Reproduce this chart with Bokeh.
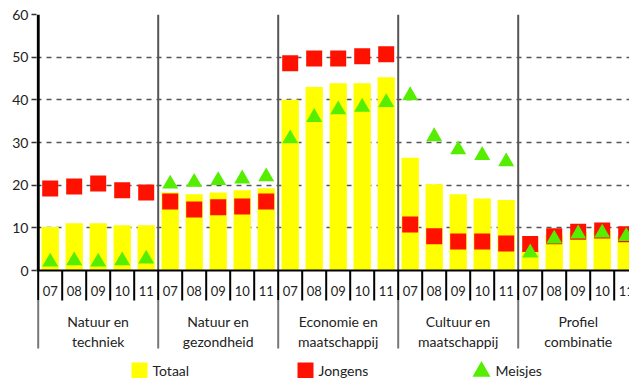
from bokeh.plotting import figure
from bokeh.models import Range1d, FixedTicker, Span
from bokeh.embed import file_html
from bokeh.resources import INLINE
from bokeh.core.properties import value

# ---------------- data ----------------
groups = ["Natuur en\ntechniek", "Natuur en\ngezondheid", "Economie en\nmaatschappij",
          "Cultuur en\nmaatschappij", "Profiel\ncombinatie"]
years = ["07", "08", "09", "10", "11"]

totaal = [10.2, 11.1, 11.1, 10.6, 10.6,
          18.3, 17.9, 18.3, 18.8, 19.3,
          40.0, 43.0, 43.9, 43.9, 45.3,
          26.4, 20.2, 17.9, 16.9, 16.5,
          4.7, 8.4, 9.0, 9.4, 8.0]
jongens = [19.2, 19.7, 20.4, 18.8, 18.3,
           16.2, 14.3, 14.8, 15.0, 16.2,
           48.6, 49.7, 49.7, 50.2, 50.7,
           10.8, 8.0, 6.8, 6.8, 6.3,
           6.2, 8.0, 9.1, 9.4, 8.5]
meisjes = [2.0, 2.3, 2.0, 2.3, 2.7,
           20.3, 20.7, 21.1, 21.5, 22.0,
           30.9, 35.9, 37.7, 38.3, 39.4,
           41.0, 31.4, 28.3, 27.0, 25.5,
           4.15, 7.4, 8.6, 8.8, 8.0]
legend_labels = ["Totaal", "Jongens", "Meisjes"]

# ---------------- layout helpers ----------------
W, H = 629, 378
BL, BT = 36, 14
SLOT = 24.0            # px per year slot
PX_ZERO, PX_TOP = 270, 14
UPP = 60.0 / (PX_ZERO - PX_TOP)   # data units per px
frame_h = H - BT
y_start = 60.0 - frame_h * UPP
x_start = -1.7 / SLOT
x_end = x_start + (W - BL) / SLOT


def yd(py):
    return (PX_ZERO - py) * UPP


def xd(px):
    return x_start + (px - BL) / SLOT


FONT = value("Lato")
TXT = "#222222"

p = figure(width=W, height=H, output_backend="svg", toolbar_location=None,
           x_axis_location=None, y_axis_location="left",
           x_range=Range1d(x_start, x_end), y_range=Range1d(y_start, 60),
           min_border_left=BL, min_border_top=BT, min_border_right=0, min_border_bottom=0)
p.outline_line_color = None
p.background_fill_color = "white"
p.border_fill_color = "white"

# grid
p.xgrid.visible = False
p.ygrid.ticker = FixedTicker(ticks=[10, 20, 30, 40, 50, 60])
p.ygrid.grid_line_color = "#555555"
p.ygrid.grid_line_dash = "5 5"
p.ygrid.grid_line_width = 1.6

# y axis
ax = p.yaxis[0]
ax.ticker = FixedTicker(ticks=[0, 10, 20, 30, 40, 50, 60])
ax.axis_line_color = None
ax.major_tick_out = 5
ax.major_tick_in = 0
ax.major_tick_line_color = "#333333"
ax.major_tick_line_width = 1.5
ax.minor_tick_line_color = None
ax.major_label_text_font = "Lato"
ax.major_label_text_font_size = "14px"
ax.major_label_text_color = TXT
ax.major_label_standoff = 3

# positions
n_g, n_y = len(groups), len(years)
xs = [g * n_y + i + 0.5 for g in range(n_g) for i in range(n_y)]

# bars & markers
p.vbar(x=xs, top=totaal, bottom=0, width=0.72, fill_color="#FFFF00", line_color=None)
p.scatter(x=xs, y=jongens, marker="square", size=16, fill_color="#FF1100", line_color=None)
p.scatter(x=xs, y=meisjes, marker="triangle", size=16, fill_color="#55EE00", line_color=None)

# x axis line
p.add_layout(Span(location=0, dimension="width", line_color="black", line_width=2))

# group separators in plot
gb = [g * n_y for g in range(1, n_g)]
p.segment(x0=gb, y0=[0] * len(gb), x1=gb, y1=[60] * len(gb), line_color="#555555", line_width=2)
# left spine
p.segment(x0=[0], y0=[0], x1=[0], y1=[60], line_color="black", line_width=3)

# category axis drawn beneath
yb = list(range(0, n_g * n_y))
p.segment(x0=yb, y0=[0] * len(yb), x1=yb, y1=[yd(300)] * len(yb), line_color="black", line_width=2)
gsep = [g * n_y for g in range(0, n_g)]
p.segment(x0=gsep, y0=[yd(300)] * len(gsep), x1=gsep, y1=[yd(348)] * len(gsep),
          line_color="#777777", line_width=2)

p.text(x=xs, y=[yd(290)] * len(xs), text=years * n_g, text_font=FONT, text_font_size="13px",
       text_color=TXT, text_align="center", text_baseline="middle")
p.text(x=[g * n_y + n_y / 2 for g in range(n_g)], y=[yd(331)] * n_g, text=groups,
       text_font=FONT, text_font_size="14px", text_color=TXT, text_align="center",
       text_baseline="middle", text_line_height=1.2)

# legend (manual)
ly = yd(370)
p.scatter(x=[xd(139)], y=[ly], marker="square", size=16, fill_color="#FFFF00", line_color=None)
p.scatter(x=[xd(305)], y=[ly], marker="square", size=16, fill_color="#FF1100", line_color=None)
p.scatter(x=[xd(481)], y=[ly - 1.0 * UPP], marker="triangle", size=18, fill_color="#55EE00", line_color=None)
p.text(x=[xd(152), xd(318), xd(495)], y=[ly] * 3, text=legend_labels, text_font=FONT,
       text_font_size="14px", text_color=TXT, text_align="left", text_baseline="middle")

open("out.html", "w").write(file_html(p, INLINE))
